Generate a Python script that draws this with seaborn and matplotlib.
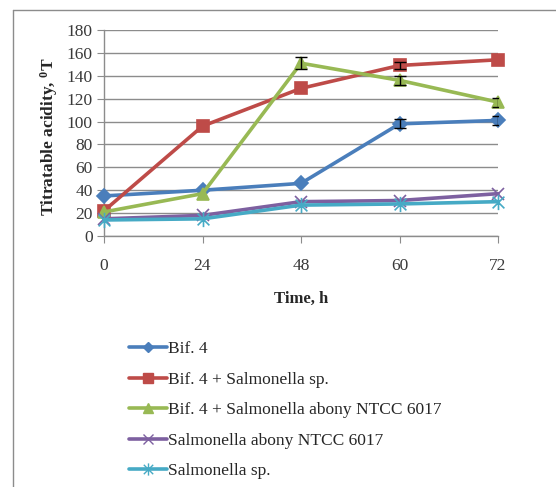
import matplotlib
matplotlib.use("Agg")
import matplotlib.pyplot as plt
import seaborn as sns
import pandas as pd
import numpy as np
from matplotlib.path import Path
from matplotlib.lines import Line2D

sns.set_style("white")
plt.rcParams['font.family'] = ['Liberation Serif', 'DejaVu Serif']
plt.rcParams['mathtext.fontset'] = 'custom'
plt.rcParams['mathtext.rm'] = 'Liberation Serif'
plt.rcParams['mathtext.bf'] = 'Liberation Serif:bold'

time_labels = ["0", "24", "48", "60", "72"]
series_names = ["Bif. 4", "Bif. 4 + Salmonella sp.", "Bif. 4 + Salmonella abony NTCC 6017",
                "Salmonella abony NTCC 6017", "Salmonella sp."]
bif4 = [35, 40, 46, 98, 101]
bif4_salm = [22, 96, 129, 149, 154]
bif4_abony = [21, 37, 151, 136, 117]
abony = [15, 18, 30, 31, 37]
salm = [14, 15, 27, 28, 30]
err_bif4 = [0, 0, 0, 4, 4]
err_bif4_salm = [0, 0, 0, 3, 0]
err_bif4_abony = [0, 0, 5, 4, 4]
err_abony = [0, 0, 0, 0, 0]
err_salm = [0, 0, 0, 0, 0]

values = [bif4, bif4_salm, bif4_abony, abony, salm]
errors = [err_bif4, err_bif4_salm, err_bif4_abony, err_abony, err_salm]
colors = ["#4A7EBB", "#BE4B48", "#98B954", "#7D60A0", "#46AAC5"]

star = Path([(-1, -1), (1, 1), (-1, 1), (1, -1), (0, -1.3), (0, 1.3)],
            [Path.MOVETO, Path.LINETO, Path.MOVETO, Path.LINETO, Path.MOVETO, Path.LINETO])
markers = ["D", "s", "^", "x", star]
msizes = [7, 9, 9, 9, 11]

fig = plt.figure(figsize=(5.56, 4.87), dpi=100)
ax = fig.add_axes([104/556, 1-236/487, (498-104)/556, (236-30)/487])

xpos = np.arange(len(time_labels))
handles = []
for name, vals, errs, c, m, ms in zip(series_names, values, errors, colors, markers, msizes):
    df = pd.DataFrame({"x": xpos, "y": vals})
    sns.lineplot(data=df, x="x", y="y", ax=ax, color=c, linewidth=2.6,
                 marker=m, markersize=ms, markeredgecolor=c, markerfacecolor=c,
                 markeredgewidth=1.2, clip_on=False, zorder=3, legend=False)
    e = np.array(errs, dtype=float)
    mask = e > 0
    if mask.any():
        ax.errorbar(xpos[mask], np.array(vals)[mask], yerr=e[mask], fmt="none",
                    ecolor="black", elinewidth=1, capsize=4, capthick=1, zorder=4)
    handles.append(Line2D([0], [0], color=c, linewidth=2.6, marker=m,
                          markersize=ms*0.8, markerfacecolor=c, markeredgecolor=c))

ax.set_xlim(0, 4)
ax.set_ylim(0, 180)
ax.set_yticks(np.arange(0, 181, 20))
ax.set_xticks(xpos)
ax.set_xticklabels(time_labels)
ax.grid(axis="y", color="#8c8c8c", linewidth=1)
ax.set_axisbelow(True)
for s in ["top", "right"]:
    ax.spines[s].set_visible(False)
for s in ["left", "bottom"]:
    ax.spines[s].set_color("#8c8c8c")
    ax.spines[s].set_linewidth(1)
ax.tick_params(axis="both", which="both", direction="out", length=5, color="#8c8c8c",
               labelsize=12.5, labelcolor="#3a3a3a", left=True, bottom=True)
ax.tick_params(axis="x", pad=11)
ax.tick_params(axis="y", pad=3)
ax.set_xlabel("Time, h", fontsize=12, fontweight="bold", labelpad=12)
ax.set_ylabel(r"Titratable acidity, $\mathbf{^{0}}$T", fontsize=12.5, fontweight="bold", labelpad=5)
ax.yaxis.set_label_coords(-0.112, 0.48)

fig.legend(handles, series_names, loc="upper left", bbox_to_anchor=(122/556, 1-334/487),
           frameon=False, fontsize=12.5, handlelength=2.2, handletextpad=0.05,
           labelspacing=0.83, borderaxespad=0)

fig.add_artist(Line2D([13/556, 13/556], [0, 1-10/487], transform=fig.transFigure,
                      color="#8c8c8c", linewidth=1))
fig.add_artist(Line2D([13/556, 1], [1-10/487, 1-10/487], transform=fig.transFigure,
                      color="#8c8c8c", linewidth=1))

fig.savefig("out.png", dpi=100)
